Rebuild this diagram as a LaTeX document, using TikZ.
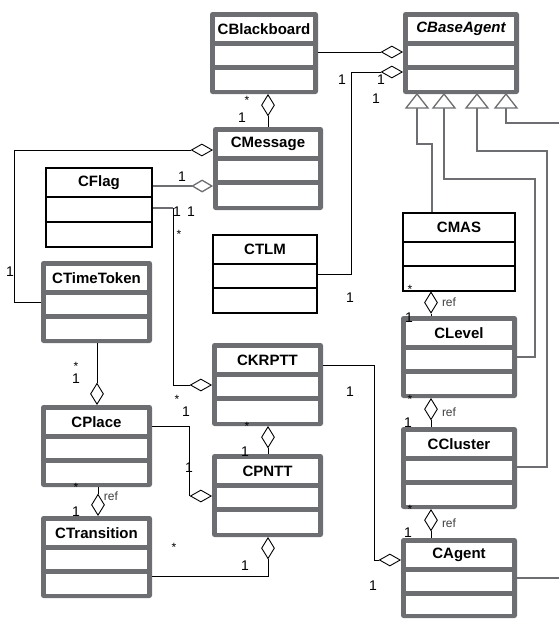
\documentclass[tikz,border=0pt]{standalone}
\usepackage{fontspec}
\setmainfont{Liberation Sans}
\usetikzlibrary{shapes.geometric,fit,calc}
\definecolor{umlgray}{HTML}{6D6E71}
\tikzset{
  titletext/.style={font=\fontsize{15}{15}\selectfont\bfseries, inner sep=0pt},
  lab/.style={font=\fontsize{14}{14}\selectfont, inner sep=0pt},
  starlab/.style={font=\fontsize{12}{12}\selectfont, inner sep=0pt},
  reflab/.style={font=\fontsize{12}{12}\selectfont, inner sep=0pt, text=black!75},
  conn/.style={draw=black, line width=0.9pt},
  genline/.style={draw=umlgray, line width=2pt},
  aggh/.style={diamond, draw=black, fill=white, line width=0.9pt, minimum width=21pt, minimum height=12pt, inner sep=0pt},
  aggv/.style={diamond, draw=black, fill=white, line width=0.9pt, minimum width=13pt, minimum height=21pt, inner sep=0pt},
  agggray/.style={diamond, draw=umlgray, fill=white, line width=1.3pt, minimum width=20pt, minimum height=12pt, inner sep=0pt},
  gentri/.style={draw=umlgray, fill=white, line width=1.3pt},
}
\newcommand\thickbox[6]{%
  \fill[umlgray, rounded corners=2.5pt] (#2,#3) rectangle (#4,#5);
  \fill[white] (#2+5,#3+5) rectangle (#4-5,#3+29);
  \fill[white] (#2+5,#3+34) rectangle (#4-5,#3+53);
  \fill[white] (#2+5,#3+58) rectangle (#4-5,#5-4);
  \node[fit={(#2,#3) (#4,#5)}, inner sep=0pt] (#1) {};
  \node[titletext] (#1-title) at ({(#2+#4)/2},#3+17) {#6};
}
\newcommand\thinbox[8]{%
  \node[fit={(#2,#3) (#4,#5)}, inner sep=0pt, draw, line width=1.2pt] (#1) {};
  \draw[line width=1.2pt] (#2,#6) -- (#4,#6) (#2,#7) -- (#4,#7);
  \node[titletext] (#1-title) at ({(#2+#4)/2},{(#3+#6)/2}) {#8};
}
\begin{document}
\begin{tikzpicture}[x=1pt,y=-1pt]
\useasboundingbox (0,0) rectangle (559,619);

% ---------- generalization lines (behind) ----------
\coordinate (g1) at (417,108);
\coordinate (g2) at (444,108);
\coordinate (g3) at (477,108);
\coordinate (g4) at (506,108);
\coordinate (g4end) at (559,123);
\coordinate (agentend) at (559,578);

% ---------- classes ----------
\thickbox{cbb}{210}{12}{318}{94}{CBlackboard}
\thickbox{cba}{403}{12}{519}{94}{\itshape CBaseAgent}
\thickbox{cmsg}{213}{127}{323}{210}{CMessage}
\thinbox{cflag}{46}{168}{152}{247}{197}{222}{CFlag}
\thinbox{ctlm}{213}{235}{317}{313}{264}{288}{CTLM}
\thickbox{ctt}{41}{261}{152}{343}{CTimeToken}
\thickbox{cplace}{41}{405}{152}{487}{CPlace}
\thickbox{ctrans}{41}{516}{152}{598}{CTransition}
\thickbox{ckrptt}{212}{343}{323}{426}{CKRPTT}
\thickbox{cpntt}{212}{454}{323}{537}{CPNTT}
\thinbox{cmas}{403}{213}{515}{291}{242}{266}{CMAS}
\thickbox{clevel}{401}{316}{517}{398}{CLevel}
\thickbox{ccluster}{401}{427}{517}{509}{CCluster}
\thickbox{cagent}{401}{538}{517}{618}{CAgent}

% ---------- generalizations ----------
\draw[genline] (g1) -- (417,144) -| (cmas.north -| 432,0);
\draw[genline] (g2) -- (444,179) -- (535,179) -- (535,357) -- (clevel.east |- 0,357);
\draw[genline] (g3) -- (477,151) -- (547,151) -- (547,467) -- (ccluster.east |- 0,467);
\draw[genline] (g4) -- (506,123) -- (g4end);
\draw[genline] (cagent.east |- 0,578) -- (agentend);
\draw[gentri] (417,94) -- (406,108) -- (428,108) -- cycle;
\draw[gentri] (444,94) -- (433,108) -- (455,108) -- cycle;
\draw[gentri] (477,94) -- (466,108) -- (488,108) -- cycle;
\draw[gentri] (506,94) -- (495,108) -- (517,108) -- cycle;

% ---------- aggregations ----------
% CBlackboard - CBaseAgent
\node[aggh, anchor=east] (d1) at (cba.west |- 0,52) {};
\draw[conn] (cbb.east |- d1) -- (d1.west);
% CTLM - CBaseAgent
\node[aggh, anchor=east] (d2) at (cba.west |- 0,72) {};
\draw[conn] (ctlm.east |- 0,274) -- (351,274) -- (351,72) -- (d2.west);
% CBlackboard - CMessage
\node[aggv, anchor=north] (d3) at (cbb.south -| 268,0) {};
\draw[conn] (d3.south) -- (cmsg.north -| d3);
% CMessage - CTimeToken
\node[aggh, anchor=east] (d4) at (cmsg.west |- 0,150) {};
\draw[conn] (d4.west) -- (14,150) -- (14,302) -- (ctt.west |- 0,302);
% CFlag - CMessage
\node[agggray, anchor=east] (d5) at (cmsg.west |- 0,186) {};
\draw[draw=umlgray, line width=2pt] (cflag.east |- d5) -- (d5.west);
% CFlag - CKRPTT
\node[aggh, anchor=east] (d6) at (ckrptt.west |- 0,385) {};
\draw[draw=umlgray, line width=1.6pt] (cflag.east |- 0,208) -- (173,208);
\draw[conn] (173,208) -- (173,385) -- (d6.west);
% CTimeToken - CPlace
\node[aggv, anchor=south] (d7) at (cplace.north -| 97,0) {};
\draw[conn] (ctt.south -| d7) -- (d7.north);
% CPlace - CTransition
\node[aggv, anchor=south] (d8) at (ctrans.north -| 98,0) {};
\draw[conn] (cplace.south -| d8) -- (d8.north);
% CPlace - CPNTT
\node[aggh, anchor=east] (d9) at (cpntt.west |- 0,496) {};
\draw[conn] (cplace.east |- 0,426) -| (d9.west);
% CKRPTT - CPNTT
\node[aggv, anchor=north] (d10) at (ckrptt.south -| 268,0) {};
\draw[conn] (d10.south) -- (cpntt.north -| d10);
% CTransition - CPNTT
\node[aggv, anchor=north] (d11) at (cpntt.south -| 268,0) {};
\draw[conn] (ctrans.east |- 0,576) -| (d11.south);
% CKRPTT - CAgent
\node[aggh, anchor=east] (d12) at (cagent.west |- 0,560) {};
\draw[conn] (ckrptt.east |- 0,365) -- (374,365) |- (d12.west);
% CMAS - CLevel - CCluster - CAgent
\node[aggv, anchor=north] (d13) at (cmas.south -| 431,0) {};
\draw[conn] (d13.south) -- (clevel.north -| d13);
\node[aggv, anchor=north] (d14) at (clevel.south -| 431,0) {};
\draw[conn] (d14.south) -- (ccluster.north -| d14);
\node[aggv, anchor=north] (d15) at (ccluster.south -| 431,0) {};
\draw[conn] (d15.south) -- (cagent.north -| d15);

% ---------- multiplicities ----------
\node[starlab] (l1) at (247,100) {*};
\node[lab] (l2) at (242,118) {1};
\node[lab] (l3) at (342,80) {1};
\node[lab] (l4) at (381,80) {1};
\node[lab] (l5) at (376,99) {1};
\node[lab] (l6) at (350,298) {1};
\node[lab] (l7) at (182,177) {1};
\node[lab] (l8) at (177,212) {1};
\node[lab] (l9) at (191,212) {1};
\node[starlab] (l10) at (179,234) {*};
\node[lab] (l11) at (10,272) {1};
\node[starlab] (l12) at (76,366) {*};
\node[lab] (l13) at (76,379) {1};
\node[starlab] (l14) at (177,399) {*};
\node[lab] (l15) at (186,412) {1};
\node[lab] (l16) at (189,468) {1};
\node[starlab] (l17) at (76,487) {*};
\node[reflab] (l18) at (111,496) {ref};
\node[lab] (l19) at (76,512) {1};
\node[starlab] (l20) at (247,426) {*};
\node[lab] (l21) at (245,452) {1};
\node[starlab] (l22) at (174,547) {*};
\node[lab] (l23) at (245,566) {1};
\node[lab] (l24) at (350,392) {1};
\node[lab] (l25) at (373,586) {1};
\node[starlab] (l26) at (410,289) {*};
\node[reflab] (l27) at (449,302) {ref};
\node[lab] (l28) at (409,318) {1};
\node[starlab] (l29) at (410,399) {*};
\node[reflab] (l30) at (449,412) {ref};
\node[lab] (l31) at (408,423) {1};
\node[starlab] (l32) at (410,509) {*};
\node[reflab] (l33) at (449,523) {ref};
\node[lab] (l34) at (408,533) {1};
\end{tikzpicture}
\end{document}
